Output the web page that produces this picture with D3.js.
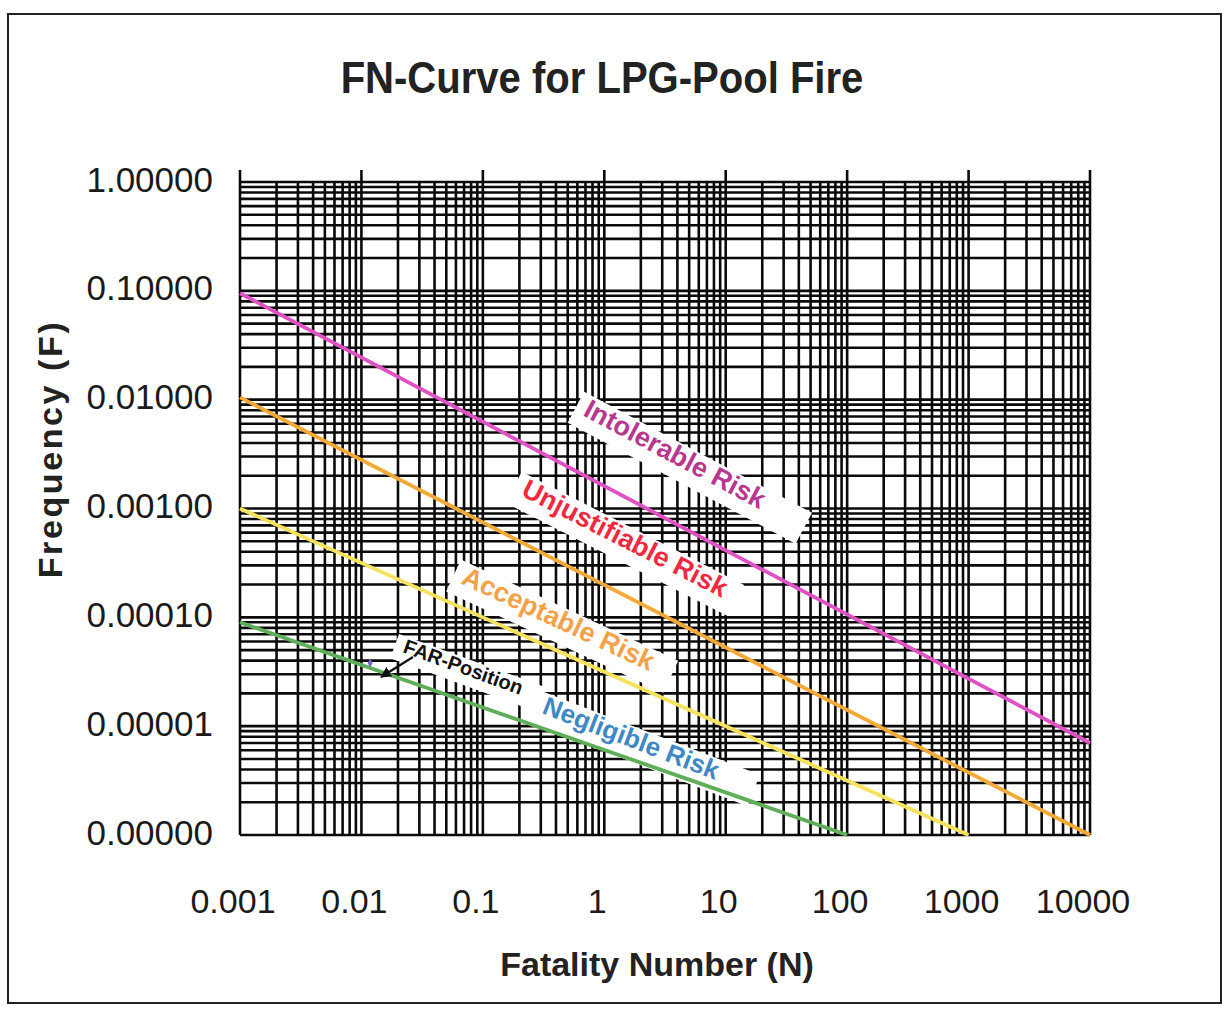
<html>
<head>
<title> FN-Curve </title>
<script type="text/javascript" src="https://cdn.jsdelivr.net/npm/d3@7"></script>
<style>
  * { margin: 0; padding: 0; }
  body { background: #fff; }
  #chart { position: relative; width: 1229px; height: 1018px; }
  text { font-family: "Liberation Sans", Arial, sans-serif; }
</style>
</head>
<body>
<div id="chart"></div>
<script type="text/javascript">
// axis ticks
var nTicks = [0.001, 0.01, 0.1, 1, 10, 100, 1000, 10000];
var nTickLabels = ['0.001', '0.01', '0.1', '1', '10', '100', '1000', '10000'];
var fTicks = [1, 0.1, 0.01, 0.001, 0.0001, 0.00001, 0.000001];
var fTickLabels = ['1.00000', '0.10000', '0.01000', '0.00100', '0.00010', '0.00001', '0.00000'];

// risk lines (N, F)
var seriesNames = ['Intolerable Risk', 'Unjustifiable Risk', 'Acceptable Risk', 'Negligible Risk'];
var intolerableN = [0.001, 10000];
var intolerableF = [0.095, 0.000007];
var unjustifiableN = [0.001, 10000];
var unjustifiableF = [0.0105, 0.000001];
var acceptableN = [0.001, 1000];
var acceptableF = [0.001, 0.000001];
var negligibleN = [0.001, 100];
var negligibleF = [0.00009, 0.000001];

// FAR point
var farN = [0.0118];
var farF = [0.000038];

var W = 1229, H = 1018;
var svg = d3.select('#chart').append('svg')
    .attr('width', W)
    .attr('height', H);

// outer frame
svg.append('rect')
    .attr('x', 8).attr('y', 14).attr('width', 1213).attr('height', 989)
    .attr('fill', 'none').attr('stroke', '#222').attr('stroke-width', 2);

var x = d3.scaleLog().domain([0.001, 10000]).range([240, 1090]);
var y = d3.scaleLog().domain([0.000001, 1]).range([835, 182]);

// title
svg.append('text')
    .attr('transform', 'translate(602,93) scale(0.89,1)')
    .attr('text-anchor', 'middle')
    .attr('font-size', 45)
    .attr('font-weight', 'bold')
    .attr('fill', '#222')
    .text('FN-Curve for LPG-Pool Fire');

// grid: every 1..9 multiple in each decade
var grid = svg.append('g').attr('stroke', '#0a0a0a').attr('stroke-width', 2.6);
grid.selectAll('line.v')
    .data(x.ticks())
  .enter().append('line')
    .attr('class', 'v')
    .attr('x1', function(d) { return x(d); })
    .attr('x2', function(d) { return x(d); })
    .attr('y1', y.range()[1])
    .attr('y2', y.range()[0]);
grid.selectAll('line.h')
    .data(y.ticks())
  .enter().append('line')
    .attr('class', 'h')
    .attr('y1', function(d) { return y(d); })
    .attr('y2', function(d) { return y(d); })
    .attr('x1', x.range()[0])
    .attr('x2', x.range()[1]);
// little ticks above the top edge
grid.selectAll('line.t')
    .data(nTicks)
  .enter().append('line')
    .attr('class', 't')
    .attr('x1', function(d) { return x(d); })
    .attr('x2', function(d) { return x(d); })
    .attr('y1', y.range()[1] - 12)
    .attr('y2', y.range()[1]);

// tick labels
svg.selectAll('text.ylab')
    .data(fTicks)
  .enter().append('text')
    .attr('class', 'ylab')
    .attr('x', 213)
    .attr('y', function(d) { return y(d) - 3; })
    .attr('dy', '0.36em')
    .attr('text-anchor', 'end')
    .attr('font-size', 35)
    .attr('fill', '#1a1a1a')
    .text(function(d, i) { return fTickLabels[i]; });

svg.selectAll('text.xlab')
    .data(nTicks)
  .enter().append('text')
    .attr('class', 'xlab')
    .attr('x', function(d) { return x(d) - 7; })
    .attr('y', 913)
    .attr('text-anchor', 'middle')
    .attr('font-size', 34)
    .attr('fill', '#1a1a1a')
    .text(function(d, i) { return nTickLabels[i]; });

// axis titles
svg.append('text')
    .attr('x', 657).attr('y', 976)
    .attr('text-anchor', 'middle')
    .attr('font-size', 34)
    .attr('font-weight', 'bold')
    .attr('fill', '#222')
    .text('Fatality Number (N)');

svg.append('text')
    .attr('transform', 'translate(62,449) rotate(-90)')
    .attr('text-anchor', 'middle')
    .attr('font-size', 34)
    .attr('font-weight', 'bold')
    .attr('letter-spacing', 2.6)
    .attr('fill', '#222')
    .text('Frequency (F)');

// label boxes + texts, anchored at a point in data space
var labels = [
  {text: seriesNames[0], n: 0.655, f: 0.00723, angle: 28, size: 27, color: '#b8378f', padR: 48},
  {text: seriesNames[1], n: 0.202, f: 0.00133, angle: 27, size: 27, color: '#ef2a40', padR: 14},
  {text: seriesNames[2], n: 0.0649, f: 0.000207, angle: 25, size: 27, color: '#f4a24a', padR: 22},
  {text: 'FAR-Position', n: 0.0216, f: 0.000048, angle: 20, size: 20, color: '#111', padR: 20},
  {text: seriesNames[3], n: 0.301, f: 0.0000132, angle: 21, size: 26, color: '#3f88c5', padR: 40}
];

var boxLayer = svg.append('g');
var lineLayer = svg.append('g');
var textLayer = svg.append('g');

labels.forEach(function(l) {
  var g = textLayer.append('g')
      .attr('transform', 'translate(' + x(l.n) + ',' + y(l.f) + ') rotate(' + l.angle + ')');
  var t = g.append('text')
      .attr('font-size', l.size)
      .attr('font-weight', 'bold')
      .attr('fill', l.color)
      .text(l.text);
  var len = t.node().getComputedTextLength();
  boxLayer.append('rect')
      .attr('transform', 'translate(' + x(l.n) + ',' + y(l.f) + ') rotate(' + l.angle + ')')
      .attr('x', -9)
      .attr('y', -l.size * 0.8)
      .attr('width', len + 9 + l.padR)
      .attr('height', l.size * 1.3)
      .attr('fill', '#fff');
});

// risk lines
var line = d3.line()
    .x(function(d) { return x(d[0]); })
    .y(function(d) { return y(d[1]); });
var series = [
  {n: intolerableN, f: intolerableF, color: '#e052c4'},
  {n: unjustifiableN, f: unjustifiableF, color: '#f4a835'},
  {n: acceptableN, f: acceptableF, color: '#f7e25c'},
  {n: negligibleN, f: negligibleF, color: '#5fae58'}
];
series.forEach(function(s) {
  lineLayer.append('path')
      .datum(d3.zip(s.n, s.f))
      .attr('d', line)
      .attr('fill', 'none')
      .attr('stroke', s.color)
      .attr('stroke-width', 3.8);
});

// FAR point and arrow
svg.append('defs').append('marker')
    .attr('id', 'ah')
    .attr('viewBox', '0 0 10 10')
    .attr('refX', 9).attr('refY', 5)
    .attr('markerWidth', 5).attr('markerHeight', 5)
    .attr('orient', 'auto')
  .append('path')
    .attr('d', 'M0,0L10,5L0,10z')
    .attr('fill', '#111');

textLayer.append('line')
    .attr('x1', x(0.0266)).attr('y1', y(0.0000432))
    .attr('x2', x(0.0145)).attr('y2', y(0.0000283))
    .attr('stroke', '#111')
    .attr('stroke-width', 2.2)
    .attr('marker-end', 'url(#ah)');

textLayer.selectAll('path.far')
    .data(d3.zip(farN, farF))
  .enter().append('path')
    .attr('class', 'far')
    .attr('transform', function(d) { return 'translate(' + x(d[0]) + ',' + y(d[1]) + ')'; })
    .attr('d', d3.symbol().type(d3.symbolDiamond).size(22))
    .attr('fill', '#6a6ad0');
</script>
</body>
</html>
